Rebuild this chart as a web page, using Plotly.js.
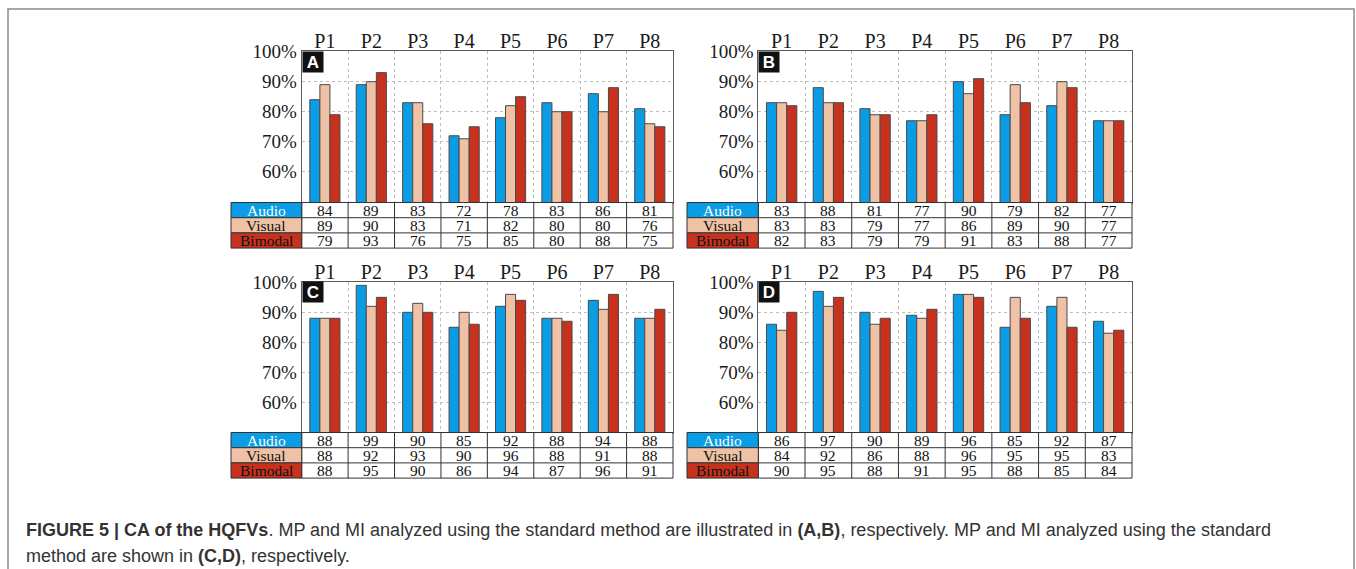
<!DOCTYPE html>
<html><head><meta charset="utf-8">
<script src="https://cdn.plot.ly/plotly-3.0.1.min.js"></script>
<style>html,body{margin:0;padding:0;background:#fff}#chart{width:1356px;height:569px}</style>
</head><body><div id="chart"></div>
<script>
// ---------- DATA ----------
const participants = ['P1','P2','P3','P4','P5','P6','P7','P8'];
const seriesNames = ['Audio','Visual','Bimodal'];
const panelLetters = ['A','B','C','D'];

const audioA   = [84,89,83,72,78,83,86,81];
const visualA  = [89,90,83,71,82,80,80,76];
const bimodalA = [79,93,76,75,85,80,88,75];

const audioB   = [83,88,81,77,90,79,82,77];
const visualB  = [83,83,79,77,86,89,90,77];
const bimodalB = [82,83,79,79,91,83,88,77];

const audioC   = [88,99,90,85,92,88,94,88];
const visualC  = [88,92,93,90,96,88,91,88];
const bimodalC = [88,95,90,86,94,87,96,91];

const audioD   = [86,97,90,89,96,85,92,87];
const visualD  = [84,92,86,88,96,95,95,83];
const bimodalD = [90,95,88,91,95,88,85,84];

const yTickVals = [60,70,80,90,100];
const yTickText = ['60%','70%','80%','90%','100%'];

const captionLine1 = '<b>FIGURE 5 | CA of the HQFVs</b>. MP and MI analyzed using the standard method are illustrated in <b>(A,B)</b>, respectively. MP and MI analyzed using the standard';
const captionLine2 = 'method are shown in <b>(C,D)</b>, respectively.';

// ---------- STYLE / LAYOUT ----------
const W = 1356, H = 569;
const X = px => px / W;
const Y = py => 1 - py / H;
const colors = ['#0a9de6', '#efc2a6', '#c7321f'];
const labelTextColors = ['#ffffff', '#111111', '#111111'];
const serif = 'Liberation Serif, Times New Roman, serif';
const sans = 'Liberation Sans, Arial, sans-serif';

const panelData = [
  [audioA, visualA, bimodalA],
  [audioB, visualB, bimodalB],
  [audioC, visualC, bimodalC],
  [audioD, visualD, bimodalD]
];
const boxes = [
  {labelLeft: 231, left: 301.7, right: 673, top: 50.7, bottom: 202.5},
  {labelLeft: 687, left: 758.3, right: 1132, top: 50.7, bottom: 202.5},
  {labelLeft: 231, left: 301.7, right: 673, top: 281.5, bottom: 432.5},
  {labelLeft: 687, left: 758.3, right: 1132, top: 281.5, bottom: 432.5}
];
const rowH = 15.2;

const traces = [];
const layout = {
  width: W, height: H,
  margin: {l: 0, r: 0, t: 0, b: 0},
  paper_bgcolor: '#ffffff', plot_bgcolor: '#ffffff',
  barmode: 'group', bargap: 0.35, bargroupgap: 0,
  showlegend: false,
  shapes: [], annotations: []
};

// outer frame
layout.shapes.push({type: 'rect', xref: 'paper', yref: 'paper',
  x0: X(8), x1: X(1354), y0: Y(9), y1: Y(620),
  line: {color: '#8a8a8a', width: 1.5}, fillcolor: 'rgba(0,0,0,0)', layer: 'below'});

panelData.forEach((series, k) => {
  const sfx = k === 0 ? '' : String(k + 1);
  const b = boxes[k];
  series.forEach((vals, j) => {
    traces.push({
      type: 'bar', name: seriesNames[j], x: participants, y: vals,
      xaxis: 'x' + sfx, yaxis: 'y' + sfx,
      marker: {color: colors[j], line: {color: '#4a4a4a', width: 1}},
      hoverinfo: 'skip'
    });
  });
  layout['xaxis' + sfx] = {
    domain: [X(b.left), X(b.right)], anchor: 'y' + sfx,
    type: 'category', side: 'top', tickson: 'boundaries', ticks: '',
    ticklabelstandoff: -6,
    showgrid: true, gridcolor: '#bdbdbd', griddash: 'dot', gridwidth: 1,
    showline: true, mirror: true, linecolor: '#5a5a5a', linewidth: 1,
    tickfont: {family: serif, size: 20, color: '#1a1a1a'},
    fixedrange: true
  };
  layout['yaxis' + sfx] = {
    domain: [Y(b.bottom), Y(b.top)], anchor: 'x' + sfx,
    range: [49.8, 100.3], tickvals: yTickVals, ticktext: yTickText, ticks: '',
    showgrid: true, gridcolor: '#bdbdbd', griddash: 'dot', gridwidth: 1,
    zeroline: false, showline: true, mirror: true, linecolor: '#5a5a5a', linewidth: 1,
    tickfont: {family: serif, size: 19, color: '#1a1a1a'},
    fixedrange: true
  };
  // panel letter
  layout.annotations.push({
    xref: 'x' + sfx + ' domain', yref: 'y' + sfx + ' domain', x: 0, y: 1,
    xanchor: 'left', yanchor: 'top', showarrow: false,
    text: '<b>' + panelLetters[k] + '</b>', bgcolor: '#111111',
    width: 18, height: 18, borderpad: 1,
    font: {family: sans, size: 17, color: '#ffffff'}
  });
  // table
  const rowsY = [0, 1, 2, 3].map(r => b.bottom + r * rowH);
  layout.shapes.push({type: 'rect', xref: 'paper', yref: 'paper',
    x0: X(b.left), x1: X(b.right), y0: Y(rowsY[0]), y1: Y(rowsY[3]),
    line: {color: '#333', width: 1}, fillcolor: '#ffffff'});
  for (let j = 0; j < 3; j++) {
    layout.shapes.push({type: 'rect', xref: 'paper', yref: 'paper',
      x0: X(b.labelLeft), x1: X(b.left), y0: Y(rowsY[j]), y1: Y(rowsY[j + 1]),
      line: {color: '#333', width: 1}, fillcolor: colors[j]});
    if (j > 0) {
      layout.shapes.push({type: 'line', xref: 'paper', yref: 'paper',
        x0: X(b.left), x1: X(b.right), y0: Y(rowsY[j]), y1: Y(rowsY[j]),
        line: {color: '#333', width: 1}});
    }
    layout.annotations.push({
      xref: 'paper', yref: 'paper', x: X((b.labelLeft + b.left) / 2),
      y: Y((rowsY[j] + rowsY[j + 1]) / 2), xanchor: 'center', yanchor: 'middle',
      showarrow: false, text: seriesNames[j], borderpad: 0,
      font: {family: serif, size: 15.5, color: labelTextColors[j]}
    });
    series[j].forEach((v, i) => {
      layout.annotations.push({
        xref: 'x' + sfx, yref: 'paper', x: participants[i],
        y: Y((rowsY[j] + rowsY[j + 1]) / 2), xanchor: 'center', yanchor: 'middle',
        showarrow: false, text: String(v), borderpad: 0,
        font: {family: serif, size: 15.5, color: '#111'}
      });
    });
  }
  for (let i = 1; i < participants.length; i++) {
    layout.shapes.push({type: 'line', xref: 'x' + sfx, yref: 'paper',
      x0: i - 0.5, x1: i - 0.5, y0: Y(rowsY[0]), y1: Y(rowsY[3]),
      line: {color: '#333', width: 1}});
  }
});

// caption
layout.annotations.push({xref: 'paper', yref: 'paper', x: X(24), y: Y(530),
  xanchor: 'left', yanchor: 'middle', align: 'left', showarrow: false,
  text: captionLine1, font: {family: sans, size: 18, color: '#333'}});
layout.annotations.push({xref: 'paper', yref: 'paper', x: X(24), y: Y(556),
  xanchor: 'left', yanchor: 'middle', align: 'left', showarrow: false,
  text: captionLine2, font: {family: sans, size: 18, color: '#333'}});

Plotly.newPlot('chart', traces, layout, {displayModeBar: false, staticPlot: true});
</script>
</body></html>
